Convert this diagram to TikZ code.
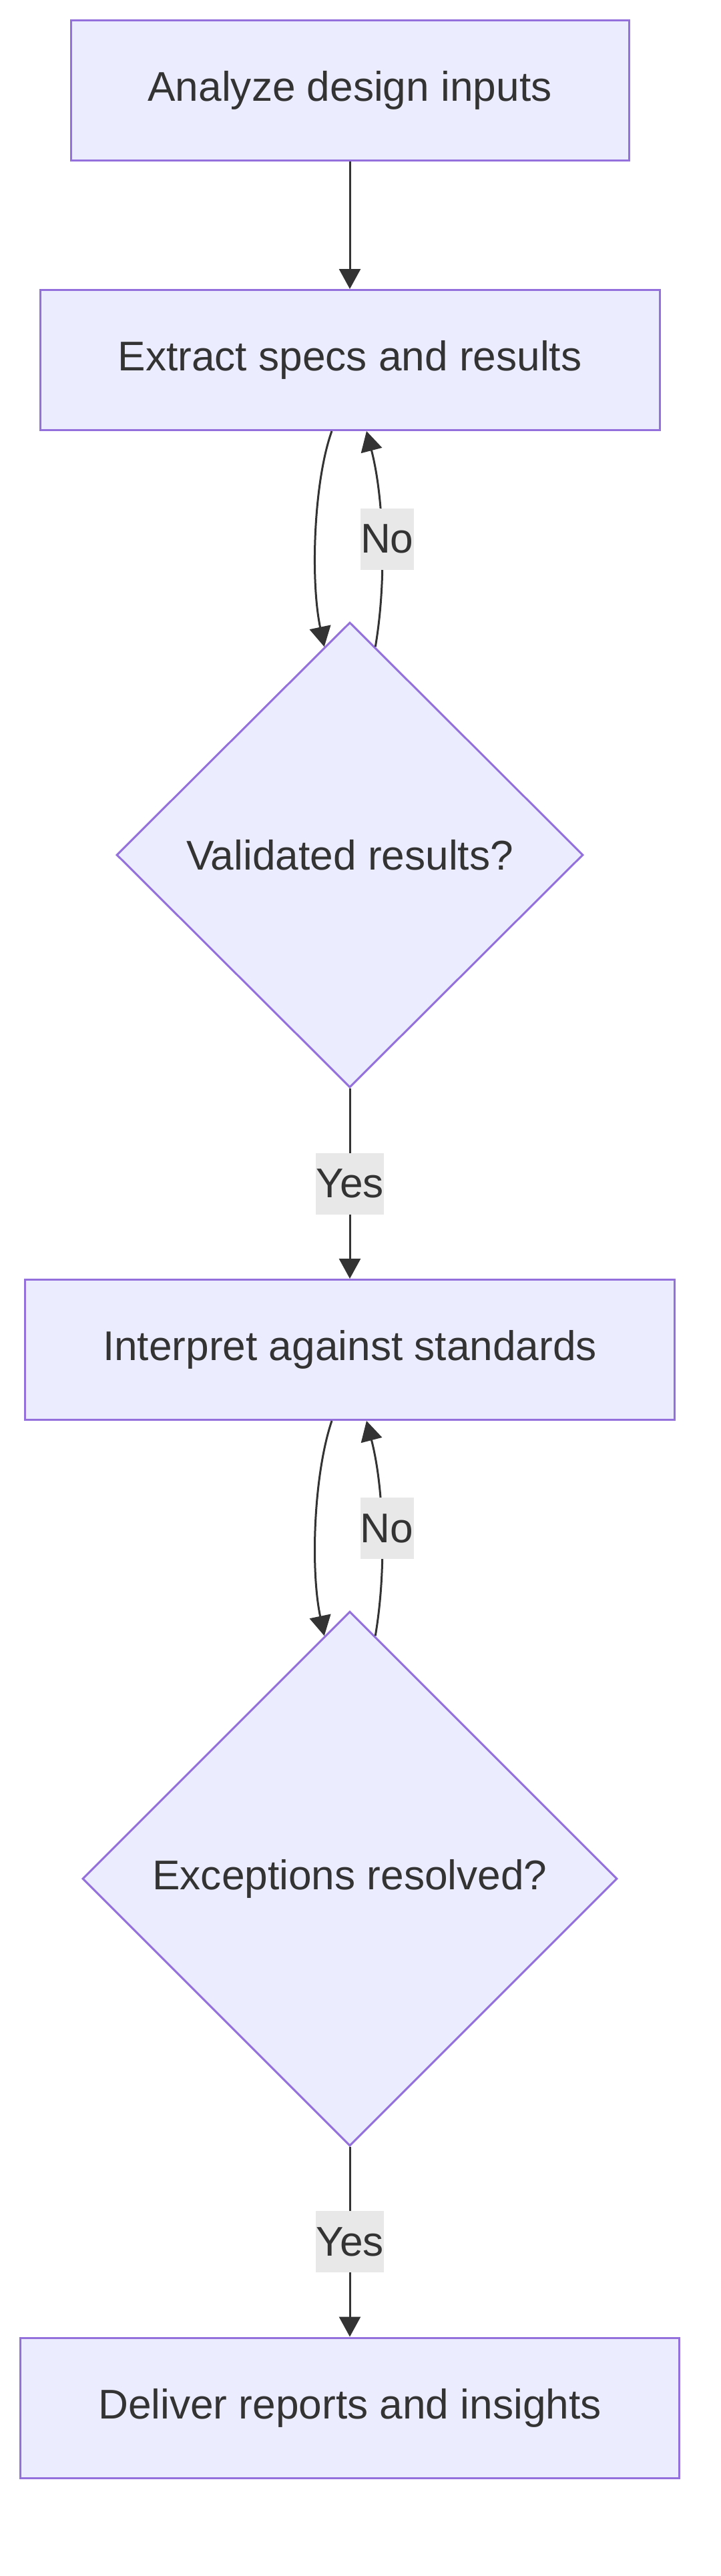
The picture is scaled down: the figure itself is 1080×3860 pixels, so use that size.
\documentclass[tikz,border=0pt]{standalone}
\usepackage{fontspec}
\setmainfont{Liberation Sans}
\usepackage{tikz}
\usetikzlibrary{shapes.geometric, arrows.meta}

\definecolor{boxfill}{HTML}{ECECFF}
\definecolor{boxline}{HTML}{9370DB}
\definecolor{ink}{HTML}{333333}
\definecolor{lblfill}{HTML}{E8E8E8}

\begin{document}
\begin{tikzpicture}[x=0.5pt, y=-0.5pt,
  every node/.style={font=\fontsize{31.1}{36}\selectfont, text=ink},
  stepbox/.style={draw=boxline, fill=boxfill, line width=1.5pt, minimum height=105pt, inner sep=0pt},
  choice/.style={diamond, draw=boxline, fill=boxfill, line width=1.5pt, inner sep=0pt},
  flow/.style={draw=ink, line width=1.5pt, -{Triangle[length=15pt, width=16pt]}},
  lbl/.style={fill=lblfill, inner xsep=0pt, minimum height=46pt}]
\useasboundingbox (0,0) rectangle (1080,3860);

\node[stepbox, minimum width=418pt] (analyze) at (524,135.5) {Analyze design inputs};
\node[stepbox, minimum width=464pt] (extract) at (524,539.5) {Extract specs and results};
\node[choice, minimum width=349.5pt, minimum height=348.5pt] (validated) at (524,1281) {Validated results?};
\node[stepbox, minimum width=486.5pt] (interpret) at (524,2022.5) {Interpret against standards};
\node[choice, minimum width=400.5pt, minimum height=400.5pt] (resolved) at (524,2815) {Exceptions resolved?};
\node[stepbox, minimum width=493.5pt] (deliver) at (524,3608) {Deliver reports and insights};

\draw[flow] (analyze) -- (extract);
\draw[flow] ([xshift=-13.5pt]extract.south) .. controls +(-27,75) and +(-21,-100) .. (validated.97);
\draw[flow] (validated.83) .. controls +(17,-100) and +(26,100) .. ([xshift=12.5pt]extract.south)
  node[lbl, pos=0.5, xshift=4pt] (no1) {No};
\draw[flow] (validated) -- (interpret) node[lbl, midway] (yes1) {Yes};
\draw[flow] ([xshift=-13.5pt]interpret.south) .. controls +(-27,80) and +(-21,-100) .. (resolved.96);
\draw[flow] (resolved.84) .. controls +(17,-100) and +(26,100) .. ([xshift=12.5pt]interpret.south)
  node[lbl, pos=0.5, xshift=4pt] (no2) {No};
\draw[flow] (resolved) -- (deliver) node[lbl, midway] (yes2) {Yes};
\end{tikzpicture}
\end{document}
